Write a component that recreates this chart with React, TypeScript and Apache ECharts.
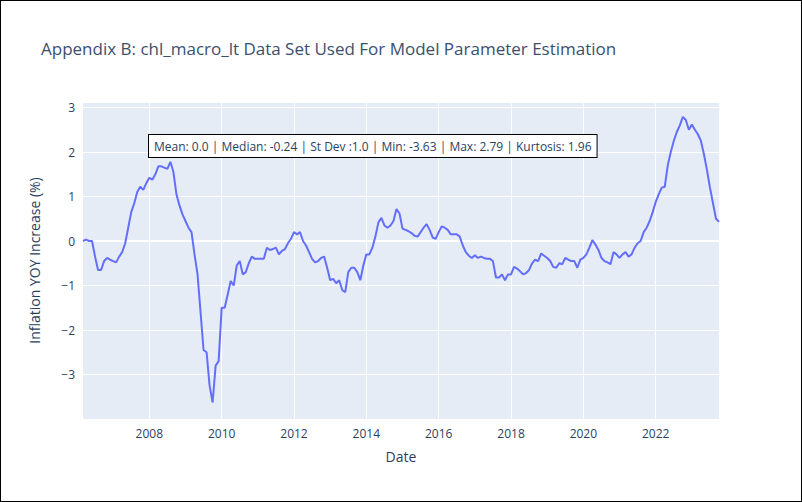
import React, { useEffect, useRef } from 'react'
import * as echarts from 'echarts'

const startYear = 2006
const startMonth = 3
const inflation = [
  // 2006 (Mar-Dec)
  0.0, 0.03, 0.0, 0.0, -0.35, -0.65, -0.65, -0.45, -0.38, -0.42,
  // 2007
  -0.45, -0.48, -0.35, -0.25, -0.05, 0.3, 0.65, 0.85, 1.1, 1.22, 1.15, 1.3,
  // 2008
  1.42, 1.38, 1.5, 1.68, 1.68, 1.65, 1.62, 1.78, 1.55, 1.05, 0.8, 0.6,
  // 2009
  0.45, 0.3, 0.2, -0.3, -0.75, -1.6, -2.45, -2.5, -3.25, -3.63, -2.8, -2.7,
  // 2010
  -1.5, -1.5, -1.2, -0.9, -1.0, -0.55, -0.45, -0.75, -0.7, -0.5, -0.35, -0.4,
  // 2011
  -0.4, -0.4, -0.4, -0.15, -0.2, -0.18, -0.15, -0.3, -0.22, -0.18, -0.05, 0.05,
  // 2012
  0.2, 0.15, 0.2, 0.0, -0.1, -0.25, -0.4, -0.48, -0.45, -0.38, -0.35, -0.6,
  // 2013
  -0.88, -0.85, -0.95, -0.88, -1.1, -1.15, -0.7, -0.6, -0.6, -0.7, -0.88, -0.55,
  // 2014
  -0.3, -0.3, -0.15, 0.1, 0.42, 0.52, 0.35, 0.3, 0.35, 0.45, 0.72, 0.62,
  // 2015
  0.28, 0.25, 0.22, 0.18, 0.12, 0.1, 0.2, 0.3, 0.38, 0.25, 0.08, 0.05,
  // 2016
  0.2, 0.33, 0.3, 0.25, 0.15, 0.15, 0.15, 0.1, -0.1, -0.25, -0.33, -0.38,
  // 2017
  -0.32, -0.38, -0.35, -0.38, -0.4, -0.4, -0.45, -0.82, -0.82, -0.75, -0.88, -0.75,
  // 2018
  -0.75, -0.58, -0.62, -0.68, -0.75, -0.72, -0.65, -0.5, -0.42, -0.45, -0.28, -0.33,
  // 2019
  -0.38, -0.45, -0.58, -0.6, -0.5, -0.52, -0.38, -0.42, -0.45, -0.45, -0.6, -0.42,
  // 2020
  -0.38, -0.3, -0.15, 0.02, -0.08, -0.2, -0.38, -0.45, -0.48, -0.52, -0.25, -0.3,
  // 2021
  -0.38, -0.3, -0.25, -0.35, -0.3, -0.15, -0.05, 0.0, 0.2, 0.3, 0.45, 0.65,
  // 2022
  0.88, 1.05, 1.2, 1.22, 1.7, 2.0, 2.25, 2.45, 2.6, 2.79, 2.72, 2.5,
  // 2023 (Jan-Oct)
  2.62, 2.5, 2.4, 2.25, 1.95, 1.6, 1.2, 0.85, 0.5, 0.43,
]
const yearTicks = [2008, 2010, 2012, 2014, 2016, 2018, 2020, 2022]
const statsText = 'Mean: 0.0 | Median: -0.24 | St Dev :1.0 | Min: -3.63 | Max: 2.79 | Kurtosis: 1.96'

const textColor = '#2a3f5f'
const font = '"Open Sans", "Noto Sans", sans-serif'

const App: React.FC = () => {
  const chartRef = useRef<HTMLDivElement>(null)

  useEffect(() => {
    if (!chartRef.current) return
    const chart = echarts.init(chartRef.current, undefined, { renderer: 'svg' })

    // decimal year for each monthly point
    const data = inflation.map((v, i) => [startYear + (startMonth - 1 + i) / 12, v])
    const xMin = data[0][0]
    const xMax = data[data.length - 1][0]

    chart.setOption({
      animation: false,
      backgroundColor: '#fff',
      textStyle: { fontFamily: font },
      title: {
        text: 'Appendix B: chl_macro_lt Data Set Used For Model Parameter Estimation',
        left: 35,
        top: 34,
        textStyle: { color: '#3b4f6f', fontSize: 17, fontWeight: 'normal', fontFamily: font },
      },
      grid: { left: 82, right: 82, top: 101, bottom: 82, backgroundColor: '#e5ecf6', show: true, borderWidth: 0 },
      xAxis: {
        type: 'value',
        min: xMin,
        max: xMax,
        name: 'Date',
        nameLocation: 'middle',
        nameGap: 30,
        nameTextStyle: { color: textColor, fontSize: 14 },
        axisLine: { show: false },
        axisTick: { show: false, customValues: yearTicks },
        axisLabel: { customValues: yearTicks, color: textColor, fontSize: 12, formatter: (v: number) => String(Math.round(v)) },
        splitLine: { show: false },
      },
      yAxis: {
        type: 'value',
        min: -4,
        max: 3.125,
        interval: 1,
        name: 'Inflation YOY Increase (%)',
        nameLocation: 'middle',
        nameGap: 42,
        nameTextStyle: { color: textColor, fontSize: 14 },
        axisLine: { show: false },
        axisTick: { show: false },
        axisLabel: {
          color: textColor,
          fontSize: 12,
          formatter: (v: number) => (v === -4 ? '' : v < 0 ? '\u2212' + Math.abs(v) : String(v)),
        },
        splitLine: { lineStyle: { color: '#fff', width: 1 } },
      },
      series: [
        {
          type: 'line',
          data,
          showSymbol: false,
          lineStyle: { color: '#636efa', width: 2 },
          itemStyle: { color: '#636efa' },
          z: 3,
          markLine: {
            silent: true,
            symbol: 'none',
            label: { show: false },
            lineStyle: { color: '#fff', type: 'solid', width: 1 },
            data: [...yearTicks.map((y) => ({ xAxis: y })), { yAxis: 0, lineStyle: { width: 2 } }],
            z: 1,
          },
        },
      ],
      graphic: [
        {
          type: 'text',
          left: 147,
          top: 133,
          z: 10,
          style: {
            text: statsText,
            fill: textColor,
            fontSize: 12,
            fontFamily: font,
            backgroundColor: '#fff',
            borderColor: '#000',
            borderWidth: 1,
            padding: [5, 5, 5, 5],
          },
        },
      ],
    })

    return () => chart.dispose()
  }, [])

  return (
    <div
      ref={chartRef}
      style={{ position: 'absolute', left: 0, top: 0, width: 802, height: 502, boxSizing: 'border-box', border: '1px solid #000' }}
    />
  )
}

export default App
